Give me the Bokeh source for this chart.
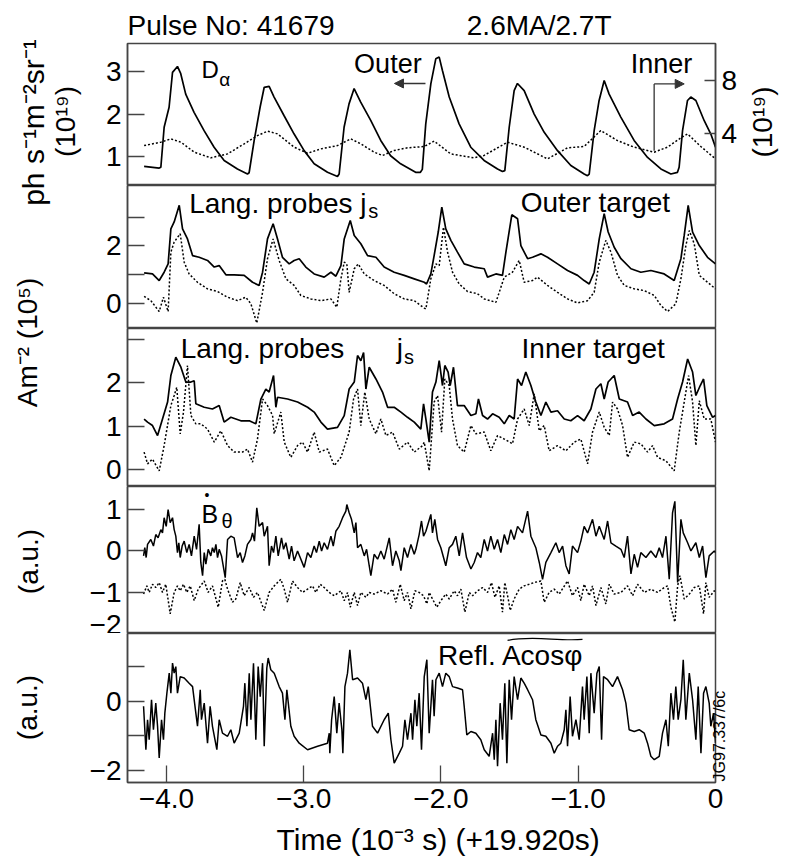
import math
from bokeh.plotting import figure
from bokeh.models import Range1d, LinearAxis, FixedTicker, Label, Arrow, NormalHead, Title
from bokeh.layouts import row, column
from bokeh.embed import file_html
from bokeh.resources import INLINE

FONT = "Liberation Sans"

# ---------------- data (time in 10^-3 s) ----------------
dalpha_outer = [(-4.163,0.77),(-4.053,0.73),(-4.041,0.75),(-4.017,1.69),(-3.981,2.16),(-3.956,2.98),(-3.920,3.12),(-3.896,2.95),(-3.860,2.47),(-3.799,2.04),(-3.726,1.61),(-3.653,1.22),(-3.580,0.91),(-3.483,0.71),(-3.410,0.59),(-3.398,0.62),(-3.361,1.38),(-3.318,2.16),(-3.288,2.63),(-3.252,2.65),(-3.216,2.40),(-3.143,1.96),(-3.070,1.53),(-2.997,1.14),(-2.924,0.83),(-2.827,0.63),(-2.754,0.53),(-2.742,0.59),(-2.706,1.69),(-2.670,2.24),(-2.633,2.60),(-2.585,2.28),(-2.512,1.85),(-2.439,1.38),(-2.367,1.02),(-2.294,0.83),(-2.185,0.63),(-2.150,0.63),(-2.136,0.70),(-2.111,1.77),(-2.074,2.71),(-2.038,3.30),(-2.013,3.34),(-1.989,3.02),(-1.940,2.40),(-1.868,1.77),(-1.783,1.22),(-1.686,0.91),(-1.588,0.71),(-1.552,0.65),(-1.535,0.67),(-1.503,1.69),(-1.467,2.55),(-1.443,2.72),(-1.394,2.55),(-1.321,2.00),(-1.248,1.57),(-1.151,1.14),(-1.054,0.79),(-0.957,0.59),(-0.933,0.55),(-0.920,0.59),(-0.884,1.61),(-0.848,2.32),(-0.811,2.79),(-0.775,2.47),(-0.690,1.93),(-0.593,1.38),(-0.495,0.98),(-0.398,0.71),(-0.325,0.59),(-0.277,0.63),(-0.265,0.75),(-0.240,1.61),(-0.204,2.32),(-0.180,2.40),(-0.143,2.32),(-0.083,1.85),(-0.034,1.53),(0.0,1.22)]

dalpha_inner = [(-4.163,3.06),(-4.041,3.32),(-3.968,3.57),(-3.895,3.32),(-3.798,2.56),(-3.677,2.13),(-3.555,2.43),(-3.434,3.19),(-3.337,3.82),(-3.264,4.15),(-3.191,3.95),(-3.070,2.94),(-2.972,2.48),(-2.875,2.81),(-2.754,3.06),(-2.657,3.57),(-2.584,3.19),(-2.487,2.56),(-2.426,2.31),(-2.341,2.69),(-2.244,2.89),(-2.122,2.99),(-2.050,3.40),(-1.929,2.43),(-1.759,2.13),(-1.686,2.31),(-1.516,3.32),(-1.394,2.94),(-1.224,2.05),(-1.078,2.89),(-0.957,2.99),(-0.836,4.20),(-0.714,3.44),(-0.593,2.94),(-0.447,2.56),(-0.350,2.94),(-0.252,3.65),(-0.204,3.95),(-0.107,2.99),(0.0,2.05)]

js_outer_a = [(-4.163,1.06),(-4.102,1.02),(-4.053,0.79),(-4.017,1.08),(-3.988,1.37),(-3.968,2.59),(-3.944,2.83),(-3.907,3.41),(-3.883,2.59),(-3.847,2.24),(-3.810,1.66),(-3.762,1.60),(-3.701,1.49),(-3.652,1.26),(-3.616,1.31),(-3.567,0.99),(-3.507,0.99),(-3.434,0.97),(-3.373,0.73),(-3.325,0.62),(-3.300,1.08),(-3.264,2.24),(-3.223,2.77),(-3.191,2.24),(-3.155,1.60),(-3.106,1.37),(-3.070,1.49),(-3.033,1.55),(-2.985,1.26),(-2.924,1.02),(-2.851,0.91),(-2.802,1.08),(-2.766,0.94),(-2.729,1.31),(-2.705,2.24),(-2.661,2.88),(-2.632,2.36),(-2.584,2.07),(-2.535,1.66),(-2.474,1.60),(-2.414,1.26),(-2.341,1.08),(-2.268,0.97),(-2.195,0.85),(-2.122,0.73),(-2.105,0.67),(-2.074,1.02),(-2.050,1.66),(-2.020,2.48),(-1.994,3.35),(-1.965,2.59),(-1.928,2.19),(-1.880,1.78),(-1.831,1.37),(-1.758,1.26),(-1.685,1.20),(-1.661,0.91),(-1.600,1.02),(-1.552,0.97),(-1.527,1.78),(-1.484,3.08),(-1.442,2.94),(-1.418,2.01),(-1.369,1.55),(-1.333,1.60),(-1.272,1.72),(-1.224,1.60),(-1.151,1.37),(-1.078,1.14),(-1.005,0.97),(-0.957,0.79),(-0.920,0.67),(-0.884,1.08),(-0.847,2.24),(-0.811,3.12),(-0.782,2.48),(-0.738,1.95),(-0.689,1.55),(-0.616,1.20),(-0.544,1.08),(-0.471,1.14),(-0.374,1.02),(-0.301,0.79),(-0.252,1.55),(-0.228,2.36),(-0.199,3.41),(-0.167,2.48),(-0.118,2.01),(-0.058,1.60),(0.0,1.37)]

js_outer_b = [(-4.163,0.24),(-4.114,0.09),(-4.053,-0.29),(-4.022,0.21),(-3.988,-0.29),(-3.968,1.78),(-3.944,2.13),(-3.900,2.42),(-3.871,1.43),(-3.835,1.02),(-3.774,0.73),(-3.701,0.50),(-3.628,0.41),(-3.555,0.21),(-3.482,0.09),(-3.422,0.21),(-3.385,-0.02),(-3.342,-0.69),(-3.300,0.38),(-3.264,1.55),(-3.223,2.24),(-3.179,1.49),(-3.130,0.85),(-3.070,0.62),(-3.021,0.27),(-2.948,0.15),(-2.875,0.09),(-2.802,0.15),(-2.759,-0.14),(-2.729,0.85),(-2.705,1.43),(-2.686,1.37),(-2.669,0.38),(-2.632,1.20),(-2.603,1.37),(-2.559,1.02),(-2.487,0.79),(-2.414,0.62),(-2.341,0.33),(-2.268,0.15),(-2.195,0.09),(-2.122,-0.17),(-2.110,-0.20),(-2.074,0.85),(-2.037,1.37),(-2.013,1.31),(-1.982,2.65),(-1.952,1.78),(-1.916,1.08),(-1.867,0.67),(-1.807,0.41),(-1.734,0.33),(-1.685,0.15),(-1.600,0.03),(-1.539,0.91),(-1.479,1.08),(-1.430,1.49),(-1.394,0.73),(-1.333,0.79),(-1.297,0.91),(-1.224,0.62),(-1.151,0.38),(-1.078,0.15),(-1.005,0.01),(-0.932,0.09),(-0.884,0.38),(-0.847,1.43),(-0.799,2.19),(-0.762,1.78),(-0.714,0.97),(-0.665,0.62),(-0.592,0.50),(-0.519,0.44),(-0.446,0.27),(-0.398,-0.08),(-0.349,-0.29),(-0.289,-0.02),(-0.252,0.85),(-0.216,2.01),(-0.191,2.53),(-0.155,2.07),(-0.118,0.97),(-0.058,0.73),(0.0,0.50)]

js_inner_a = [(-4.163,1.17),(-4.138,1.10),(-4.102,1.02),(-4.065,0.79),(-4.029,1.17),(-3.992,1.56),(-3.968,2.17),(-3.932,2.59),(-3.895,2.36),(-3.859,2.02),(-3.822,2.02),(-3.798,2.05),(-3.786,1.52),(-3.725,1.44),(-3.665,1.40),(-3.616,1.48),(-3.580,1.10),(-3.531,1.21),(-3.458,1.13),(-3.397,1.13),(-3.349,1.06),(-3.312,1.63),(-3.276,1.86),(-3.252,1.79),(-3.220,2.17),(-3.203,1.44),(-3.191,1.67),(-3.118,1.63),(-3.045,1.56),(-2.972,1.44),(-2.924,1.33),(-2.875,1.10),(-2.827,0.94),(-2.754,0.98),(-2.705,1.25),(-2.669,1.86),(-2.632,2.02),(-2.608,2.63),(-2.584,2.51),(-2.564,2.70),(-2.547,1.86),(-2.523,2.36),(-2.474,2.09),(-2.426,1.79),(-2.389,1.44),(-2.341,1.44),(-2.292,1.33),(-2.244,1.21),(-2.195,1.10),(-2.147,0.94),(-2.127,1.52),(-2.110,1.17),(-2.086,0.64),(-2.062,1.79),(-2.037,2.02),(-2.013,2.51),(-1.989,1.94),(-1.972,2.40),(-1.948,2.25),(-1.933,1.94),(-1.909,2.36),(-1.880,1.48),(-1.831,1.48),(-1.782,1.25),(-1.746,1.29),(-1.727,1.63),(-1.697,1.25),(-1.661,1.17),(-1.624,1.29),(-1.576,1.21),(-1.539,1.06),(-1.503,1.25),(-1.467,1.17),(-1.442,2.09),(-1.413,1.94),(-1.382,2.25),(-1.345,1.94),(-1.309,1.56),(-1.272,1.25),(-1.236,1.56),(-1.199,1.33),(-1.151,1.36),(-1.102,1.17),(-1.054,1.13),(-1.005,1.25),(-0.957,1.13),(-0.908,1.40),(-0.871,1.86),(-0.835,1.98),(-0.811,1.63),(-0.782,2.02),(-0.738,2.17),(-0.701,1.63),(-0.641,1.56),(-0.604,1.25),(-0.556,1.33),(-0.507,1.17),(-0.446,1.02),(-0.374,1.06),(-0.313,1.17),(-0.276,1.63),(-0.240,2.02),(-0.203,2.55),(-0.167,2.25),(-0.143,1.71),(-0.111,1.94),(-0.087,2.09),(-0.063,1.48),(-0.021,1.21),(0.0,1.25)]

js_inner_b = [(-4.163,0.41),(-4.138,0.14),(-4.102,0.25),(-4.053,-0.02),(-4.017,0.56),(-3.968,1.48),(-3.944,1.71),(-3.925,1.90),(-3.900,0.83),(-3.876,1.33),(-3.847,2.40),(-3.822,1.25),(-3.786,1.06),(-3.750,1.06),(-3.701,0.94),(-3.652,0.64),(-3.604,0.90),(-3.555,0.56),(-3.507,0.41),(-3.446,0.41),(-3.410,0.48),(-3.373,0.18),(-3.337,0.71),(-3.300,1.63),(-3.264,1.48),(-3.227,1.25),(-3.215,0.83),(-3.167,1.33),(-3.142,0.64),(-3.094,0.29),(-3.045,0.56),(-3.009,0.64),(-2.972,0.41),(-2.924,0.87),(-2.887,0.41),(-2.827,0.48),(-2.778,0.10),(-2.729,0.29),(-2.669,0.87),(-2.637,1.63),(-2.608,1.86),(-2.584,1.02),(-2.555,1.79),(-2.523,1.17),(-2.474,0.83),(-2.438,1.17),(-2.401,0.79),(-2.353,0.87),(-2.304,0.48),(-2.244,0.64),(-2.195,0.41),(-2.134,0.56),(-2.122,0.64),(-2.086,-0.02),(-2.050,1.56),(-2.025,1.71),(-1.996,0.87),(-1.972,2.09),(-1.940,1.94),(-1.916,1.17),(-1.880,0.56),(-1.831,0.41),(-1.782,1.02),(-1.746,0.83),(-1.685,0.87),(-1.637,0.44),(-1.588,0.79),(-1.539,0.71),(-1.479,0.60),(-1.442,1.17),(-1.394,1.40),(-1.357,1.02),(-1.321,1.75),(-1.284,0.90),(-1.248,1.02),(-1.212,0.44),(-1.151,0.56),(-1.090,0.44),(-1.029,0.64),(-0.981,0.71),(-0.932,0.14),(-0.896,0.87),(-0.847,1.33),(-0.811,0.98),(-0.774,0.79),(-0.750,1.56),(-0.714,1.40),(-0.677,1.02),(-0.641,0.29),(-0.592,0.64),(-0.544,0.60),(-0.495,0.41),(-0.459,0.56),(-0.422,0.29),(-0.361,0.21),(-0.301,-0.02),(-0.264,0.87),(-0.228,1.56),(-0.196,2.17),(-0.167,1.56),(-0.143,0.56),(-0.118,1.59),(-0.082,1.17),(-0.034,1.17),(0.0,0.64)]

bdot_a = [(-4.167,-0.12),(-4.158,0.08),(-4.148,-0.16),(-4.138,0.16),(-4.114,0.28),(-4.095,0.12),(-4.078,0.40),(-4.061,0.32),(-4.041,0.52),(-4.029,0.44),(-4.017,0.81),(-4.002,0.60),(-3.988,1.01),(-3.973,0.69),(-3.956,0.81),(-3.944,0.52),(-3.932,0.36),(-3.920,-0.04),(-3.910,0.20),(-3.900,-0.16),(-3.886,0.12),(-3.871,0.24),(-3.852,-0.04),(-3.835,0.16),(-3.818,-0.12),(-3.798,0.36),(-3.781,0.04),(-3.762,0.65),(-3.750,-0.28),(-3.737,-0.60),(-3.725,-0.04),(-3.713,-0.32),(-3.696,0.04),(-3.677,-0.12),(-3.665,0.08),(-3.652,-0.04),(-3.640,0.16),(-3.628,-0.16),(-3.616,0.04),(-3.599,-0.12),(-3.572,-0.65),(-3.555,0.28),(-3.531,0.36),(-3.507,0.32),(-3.482,-0.16),(-3.463,-0.04),(-3.446,-0.28),(-3.429,-0.12),(-3.410,0.16),(-3.385,0.28),(-3.373,0.44),(-3.359,0.24),(-3.342,1.05),(-3.325,0.60),(-3.300,0.69),(-3.288,0.36),(-3.264,0.60),(-3.252,-0.36),(-3.235,0.12),(-3.220,-0.04),(-3.203,0.36),(-3.186,-0.12),(-3.162,0.32),(-3.147,0.04),(-3.130,0.20),(-3.106,-0.20),(-3.089,0.12),(-3.070,-0.24),(-3.045,0.00),(-2.997,-0.40),(-2.972,-0.04),(-2.948,-0.16),(-2.924,0.12),(-2.907,-0.04),(-2.887,0.24),(-2.870,0.00),(-2.851,0.20),(-2.827,0.04),(-2.802,0.36),(-2.785,0.12),(-2.766,0.48),(-2.742,0.60),(-2.717,0.81),(-2.693,0.97),(-2.686,1.13),(-2.669,0.93),(-2.652,0.77),(-2.632,0.44),(-2.620,0.69),(-2.608,0.08),(-2.584,0.16),(-2.559,-0.12),(-2.542,0.04),(-2.523,-0.36),(-2.511,-0.60),(-2.487,-0.08),(-2.462,-0.20),(-2.438,0.00),(-2.414,-0.20),(-2.377,0.32),(-2.353,-0.36),(-2.329,0.00),(-2.304,-0.24),(-2.292,-0.48),(-2.268,0.08),(-2.244,-0.16),(-2.219,0.16),(-2.195,-0.08),(-2.183,0.04),(-2.159,0.40),(-2.142,0.73),(-2.127,0.36),(-2.110,0.48),(-2.074,0.89),(-2.062,0.44),(-2.045,0.77),(-2.025,0.28),(-2.001,0.08),(-1.965,-0.36),(-1.940,0.08),(-1.916,0.16),(-1.892,0.36),(-1.867,-0.12),(-1.843,0.44),(-1.814,-0.16),(-1.782,-0.44),(-1.758,-0.28),(-1.734,-0.04),(-1.710,-0.16),(-1.685,0.28),(-1.661,0.00),(-1.637,0.36),(-1.612,0.04),(-1.588,0.28),(-1.564,-0.04),(-1.539,0.40),(-1.515,0.16),(-1.491,0.52),(-1.467,0.28),(-1.442,0.60),(-1.406,0.44),(-1.369,0.97),(-1.345,0.36),(-1.309,0.08),(-1.284,-0.28),(-1.260,-0.69),(-1.236,-0.28),(-1.199,-0.04),(-1.163,0.20),(-1.139,-0.04),(-1.114,0.12),(-1.090,-0.36),(-1.066,-0.56),(-1.042,0.12),(-1.005,-0.04),(-0.981,0.24),(-0.957,0.60),(-0.932,0.44),(-0.896,0.77),(-0.871,0.36),(-0.847,0.60),(-0.811,0.28),(-0.786,0.73),(-0.762,0.20),(-0.726,0.12),(-0.689,0.04),(-0.665,-0.16),(-0.641,0.36),(-0.616,-0.56),(-0.592,-0.08),(-0.568,-0.40),(-0.544,-0.04),(-0.507,-0.16),(-0.471,0.00),(-0.434,-0.16),(-0.410,0.08),(-0.386,-0.16),(-0.361,0.36),(-0.337,-0.69),(-0.313,0.93),(-0.296,1.21),(-0.276,-0.77),(-0.252,0.77),(-0.235,0.44),(-0.203,0.20),(-0.179,0.00),(-0.143,0.20),(-0.118,-0.16),(-0.094,0.12),(-0.070,-0.65),(-0.046,-0.12),(-0.009,0.00),(0.0,-0.04)]

bdot_b = [(-4.167,-1.05),(-4.143,-0.85),(-4.126,-1.01),(-4.102,-0.81),(-4.078,-0.89),(-4.053,-0.77),(-4.029,-1.01),(-4.005,-0.81),(-3.973,-1.53),(-3.944,-1.01),(-3.920,-0.85),(-3.900,-0.97),(-3.876,-0.81),(-3.852,-1.01),(-3.827,-0.85),(-3.798,-1.21),(-3.769,-0.93),(-3.725,-0.73),(-3.696,-1.01),(-3.665,-0.85),(-3.623,-1.37),(-3.592,-0.73),(-3.575,-0.69),(-3.555,-0.93),(-3.519,-1.25),(-3.495,-1.17),(-3.463,-0.77),(-3.434,-1.09),(-3.397,-0.89),(-3.366,-1.13),(-3.337,-1.01),(-3.288,-1.45),(-3.252,-1.01),(-3.215,-0.85),(-3.167,-0.69),(-3.142,-0.93),(-3.118,-1.25),(-3.082,-0.73),(-3.045,-0.89),(-3.009,-1.01),(-2.972,-0.93),(-2.936,-0.85),(-2.912,-1.01),(-2.880,-0.81),(-2.851,-0.89),(-2.814,-1.01),(-2.778,-1.09),(-2.729,-0.97),(-2.705,-1.21),(-2.681,-1.01),(-2.661,-1.37),(-2.632,-1.01),(-2.608,-1.33),(-2.584,-1.01),(-2.547,-1.13),(-2.523,-1.01),(-2.487,-1.05),(-2.438,-0.97),(-2.389,-1.05),(-2.353,-0.93),(-2.329,-1.25),(-2.297,-0.81),(-2.268,-1.21),(-2.244,-1.01),(-2.219,-1.41),(-2.190,-0.97),(-2.159,-1.01),(-2.127,-1.09),(-2.103,-1.29),(-2.086,-1.01),(-2.062,-1.17),(-2.030,-1.37),(-2.001,-1.21),(-1.965,-1.05),(-1.940,-1.17),(-1.904,-0.97),(-1.880,-1.09),(-1.855,-0.93),(-1.826,-1.49),(-1.794,-1.01),(-1.770,-1.09),(-1.734,-0.97),(-1.697,-0.89),(-1.661,-1.01),(-1.632,-0.77),(-1.607,-1.13),(-1.576,-0.85),(-1.552,-1.49),(-1.535,-0.77),(-1.510,-1.17),(-1.496,-1.45),(-1.467,-1.17),(-1.430,-0.93),(-1.394,-0.85),(-1.357,-0.81),(-1.321,-0.77),(-1.272,-0.73),(-1.248,-1.25),(-1.212,-1.01),(-1.175,-0.93),(-1.139,-1.05),(-1.078,-0.73),(-1.042,-1.09),(-1.005,-0.89),(-0.981,-1.21),(-0.957,-0.81),(-0.920,-1.09),(-0.896,-0.85),(-0.871,-1.33),(-0.835,-0.89),(-0.799,-1.29),(-0.774,-0.81),(-0.738,-1.05),(-0.689,-1.01),(-0.641,-0.85),(-0.604,-1.09),(-0.568,-0.81),(-0.519,-1.01),(-0.471,-0.93),(-0.422,-1.01),(-0.374,-0.89),(-0.349,-0.85),(-0.325,-1.37),(-0.296,-1.73),(-0.276,-0.85),(-0.259,-0.60),(-0.228,-1.17),(-0.191,-1.05),(-0.155,-0.89),(-0.118,-0.85),(-0.087,-1.53),(-0.070,-0.77),(-0.046,-1.13),(-0.009,-0.97),(0.0,-1.01)]

refl_acos = [(-4.167,-0.14),(-4.150,-1.40),(-4.138,-0.53),(-4.126,-1.11),(-4.109,0.05),(-4.095,-0.82),(-4.078,-0.05),(-4.065,-0.72),(-4.053,-1.64),(-4.036,-0.53),(-4.022,-1.11),(-4.012,-0.34),(-3.997,0.24),(-3.980,0.82),(-3.968,0.24),(-3.956,1.11),(-3.944,0.82),(-3.932,1.01),(-3.920,0.24),(-3.900,0.72),(-3.871,0.68),(-3.835,0.53),(-3.810,0.43),(-3.786,-0.34),(-3.774,-0.72),(-3.754,0.34),(-3.745,-0.53),(-3.725,-0.05),(-3.701,-1.21),(-3.682,-0.14),(-3.665,-0.72),(-3.633,-1.40),(-3.616,-0.53),(-3.592,-0.92),(-3.555,-1.01),(-3.531,-0.82),(-3.507,-1.21),(-3.470,-0.92),(-3.439,-0.14),(-3.429,0.53),(-3.414,-0.72),(-3.397,0.82),(-3.385,-0.53),(-3.366,1.11),(-3.349,-1.11),(-3.332,1.01),(-3.317,0.14),(-3.300,1.11),(-3.288,-1.30),(-3.269,0.97),(-3.259,1.26),(-3.240,0.92),(-3.215,0.82),(-3.179,0.43),(-3.155,0.24),(-3.137,-0.53),(-3.123,0.34),(-3.094,-0.72),(-3.070,-1.01),(-3.033,-1.21),(-2.972,-1.40),(-2.899,-1.30),(-2.827,-1.21),(-2.814,-0.92),(-2.810,-1.50),(-2.797,-0.53),(-2.778,0.14),(-2.759,-0.92),(-2.742,-0.05),(-2.722,-0.82),(-2.715,-1.50),(-2.700,0.43),(-2.681,0.82),(-2.664,1.50),(-2.644,0.63),(-2.608,0.68),(-2.572,0.53),(-2.547,0.05),(-2.530,0.43),(-2.499,-0.72),(-2.462,-0.92),(-2.414,-0.53),(-2.384,-0.34),(-2.365,-1.11),(-2.341,-1.79),(-2.304,-1.50),(-2.280,-1.30),(-2.263,-0.53),(-2.244,-1.11),(-2.219,-0.34),(-2.207,-1.11),(-2.190,0.05),(-2.176,-0.72),(-2.159,0.24),(-2.142,-1.40),(-2.122,0.72),(-2.103,1.21),(-2.086,-0.92),(-2.062,0.63),(-2.050,-0.43),(-2.037,0.63),(-2.013,0.82),(-1.989,0.43),(-1.965,0.82),(-1.940,0.72),(-1.916,0.43),(-1.880,0.39),(-1.843,0.34),(-1.831,-0.14),(-1.812,-0.97),(-1.782,-0.87),(-1.746,-0.92),(-1.710,-1.11),(-1.685,-1.40),(-1.649,-1.59),(-1.624,-0.92),(-1.612,-1.69),(-1.600,-0.53),(-1.588,-1.88),(-1.569,-0.05),(-1.552,-1.11),(-1.535,0.53),(-1.520,-1.79),(-1.503,0.63),(-1.486,-0.53),(-1.467,0.72),(-1.442,0.05),(-1.418,0.68),(-1.394,0.53),(-1.369,0.34),(-1.333,0.05),(-1.309,-0.53),(-1.272,-0.97),(-1.236,-1.01),(-1.199,-1.21),(-1.175,-1.50),(-1.151,-1.30),(-1.127,-1.21),(-1.102,-0.82),(-1.090,-0.24),(-1.078,-1.30),(-1.059,0.14),(-1.042,-1.01),(-1.017,-0.53),(-0.993,-1.11),(-0.969,0.43),(-0.957,-0.53),(-0.937,0.72),(-0.920,-0.92),(-0.908,0.82),(-0.884,-0.34),(-0.864,0.82),(-0.847,1.01),(-0.830,-1.11),(-0.816,0.72),(-0.786,0.63),(-0.750,0.43),(-0.714,0.72),(-0.677,0.34),(-0.653,-0.05),(-0.629,-0.82),(-0.592,-0.87),(-0.556,-0.82),(-0.519,-0.92),(-0.495,-1.21),(-0.471,-1.59),(-0.446,-1.69),(-0.410,-1.59),(-0.386,-0.92),(-0.361,-0.53),(-0.344,-1.30),(-0.325,0.24),(-0.306,-0.53),(-0.289,0.43),(-0.272,-0.53),(-0.252,0.05),(-0.235,1.21),(-0.216,-0.53),(-0.191,0.82),(-0.167,0.05),(-0.143,-1.11),(-0.126,0.43),(-0.106,-1.50),(-0.087,0.24),(-0.070,0.43),(-0.046,-0.05),(-0.034,-0.72),(-0.014,-0.34),(0.0,-1.20)]

x_ticks = [-4, -3, -2, -1, 0]
x_tick_labels = ["\u22124.0", "\u22123.0", "\u22122.0", "\u22121.0", "0"]

# ---------------- layout helpers ----------------
X0, X1 = -4.284, 0.0
FW = 588
LBW = 84          # width of the left strip holding the rotated y titles
BL, BR = 43, 66
FRAME = "#444444"
NB = "\u00a0"


def unzip(pairs):
    return [a for a, _ in pairs], [b for _, b in pairs]


def make_panel(fh, y0, y1, top=0, bottom=0, xaxis=False):
    p = figure(frame_width=FW, frame_height=fh, title=None,
               x_range=Range1d(X0, X1), y_range=Range1d(y0, y1),
               x_axis_location="below" if xaxis else None, y_axis_location="left",
               toolbar_location=None, output_backend="svg",
               min_border_left=BL, min_border_right=BR,
               min_border_top=top, min_border_bottom=bottom,
               outline_line_color=FRAME, outline_line_width=1.5,
               background_fill_color="white", border_fill_color="white")
    p.grid.visible = False
    return p


def style_axis(ax, ticks, labels, tick_in=17):
    ax.ticker = FixedTicker(ticks=ticks)
    ax.major_label_overrides = {t: l for t, l in zip(ticks, labels)}
    ax.major_tick_in = tick_in
    ax.major_tick_out = 0
    ax.minor_tick_line_color = None
    ax.axis_line_color = FRAME
    ax.axis_line_width = 1.5
    ax.major_tick_line_color = FRAME
    ax.major_tick_line_width = 1.3
    ax.major_label_text_font = FONT
    ax.major_label_text_font_size = "28px"
    ax.major_label_text_color = "black"
    ax.major_label_standoff = 6


def text_axis(ax, tick, text, size, standoff):
    """An axis with no line and no tick mark, used only to write a rotated side text."""
    ax.ticker = FixedTicker(ticks=[tick])
    ax.major_label_overrides = {tick: text}
    ax.major_label_orientation = math.pi / 2
    ax.major_tick_in = 0
    ax.major_tick_out = 0
    ax.minor_tick_line_color = None
    ax.major_tick_line_color = None
    ax.axis_line_color = None
    ax.major_label_text_font = FONT
    ax.major_label_text_font_size = f"{size}px"
    ax.major_label_text_color = "black"
    ax.major_label_standoff = standoff


def lab(p, x, y, text, size=28, align="left", baseline="alphabetic", angle=0.0):
    p.add_layout(Label(x=x, y=y, text=text, text_font=FONT, text_font_size=f"{size}px",
                       text_align=align, text_baseline=baseline, angle=angle,
                       text_color="black"))


def solid(p, pairs, **kw):
    t, v = unzip(pairs)
    p.line(t, v, line_color="black", line_width=kw.pop("w", 1.7), **kw)


def dotted(p, pairs, **kw):
    t, v = unzip(pairs)
    p.line(t, v, line_color="black", line_width=kw.pop("w", 1.5), line_dash="2 2", **kw)


# ---------------- panel 1 : D alpha ----------------
p1 = make_panel(142, 0.32, 3.66, top=43)
p1.add_layout(Title(text="Pulse No: 41679" + NB * 17 + "2.6MA/2.7T", align="left",
                    text_font=FONT, text_font_size="28px", text_font_style="normal",
                    standoff=6, text_color="black"), "above")
style_axis(p1.yaxis[0], [1, 2, 3], ["1", "2", "3"])
p1.extra_y_ranges = {"right": Range1d(0.03, 10.81)}
rax = LinearAxis(y_range_name="right")
p1.add_layout(rax, "right")
style_axis(rax, [4, 8], ["4", "8"], tick_in=11)
rtitle = LinearAxis(y_range_name="right")
p1.add_layout(rtitle, "right")
text_axis(rtitle, 2.15, "(10\u00b9\u2079)", 28, 22)
solid(p1, dalpha_outer)
dotted(p1, dalpha_inner, y_range_name="right")
lab(p1, -3.745, 3.05, "D", size=24)
lab(p1, -3.616, 2.81, "\u03b1", size=19)
lab(p1, -2.633, 3.18, "Outer", size=27)
p1.add_layout(Arrow(end=NormalHead(size=9, fill_color="#333333", line_color="#333333"),
                    x_start=-2.113, y_start=2.72, x_end=-2.339, y_end=2.72,
                    line_color="#333333", line_width=1.6))
lab(p1, -0.617, 3.18, "Inner", size=27)
p1.add_layout(Arrow(end=None, x_start=-0.447, y_start=1.14, x_end=-0.447, y_end=2.71,
                    line_color="#333333", line_width=1.3))
p1.add_layout(Arrow(end=NormalHead(size=9, fill_color="#333333", line_color="#333333"),
                    x_start=-0.447, y_start=2.71, x_end=-0.228, y_end=2.71,
                    line_color="#333333", line_width=1.3))

# ---------------- panel 2 : outer target ----------------
p2 = make_panel(143, -0.88, 4.10)
style_axis(p2.yaxis[0], [0, 1, 2, 3], ["0", "", "2", ""])
solid(p2, js_outer_a)
dotted(p2, js_outer_b)
lab(p2, -3.835, 3.48, "Lang. probes j")
lab(p2, -2.53, 3.20, "s", size=20)
lab(p2, -1.419, 3.50, "Outer target")

# ---------------- panel 3 : inner target ----------------
p3 = make_panel(158, -0.38, 3.25)
style_axis(p3.yaxis[0], [0, 1, 2, 3], ["0", "1", "2", ""])
solid(p3, js_inner_a)
dotted(p3, js_inner_b)
lab(p3, -3.896, 2.78, "Lang. probes")
lab(p3, -2.322, 2.78, "j")
lab(p3, -2.270, 2.59, "s", size=20)
lab(p3, -1.413, 2.78, "Inner target")

# ---------------- panel 4 : B-dot ----------------
p4 = make_panel(147, -2.01, 1.57)
style_axis(p4.yaxis[0], [-2, -1, 0, 1], ["\u22122", "\u22121", "0", "1"])
solid(p4, bdot_a, w=1.5)
dotted(p4, bdot_b, w=1.5)
lab(p4, -3.745, 0.89, "B", size=25)
lab(p4, -3.706, 1.36, "\u2022", size=14, align="center", baseline="middle")
lab(p4, -3.599, 0.72, "\u03b8", size=20)

# ---------------- panel 5 : reflectometry ----------------
p5 = make_panel(149, -2.35, 1.97, bottom=0, xaxis=True)
style_axis(p5.yaxis[0], [-2, -1, 0, 1], ["\u22122", "", "0", ""])
style_axis(p5.xaxis[0], x_ticks, x_tick_labels)
xa = p5.xaxis[0]
xa.axis_label = NB * 4 + "Time (10\u207b\u00b3 s) (+19.920s)"
xa.axis_label_text_font = FONT
xa.axis_label_text_font_size = "30px"
xa.axis_label_text_font_style = "normal"
xa.axis_label_text_color = "black"
xa.axis_label_standoff = 12
jax = LinearAxis()
p5.add_layout(jax, "right")
text_axis(jax, -2.32, "JG97.337/6c", 16, 4)
solid(p5, refl_acos, w=1.5)
lab(p5, -2.021, 1.32, "Refl. Acos\u03c6")
p5.bezier(x0=-1.515, y0=1.77, x1=-0.969, y1=1.80, cx0=-1.33, cy0=1.92,
          cx1=-1.15, cy1=1.74, line_color="black", line_width=1.2)

# ---------------- left strip with rotated y titles ----------------
TOTAL_H = 43 + 142 + 143 + 158 + 147 + 149 + 80
pl = figure(frame_width=LBW, frame_height=TOTAL_H, title=None,
            x_range=Range1d(0, LBW), y_range=Range1d(TOTAL_H, 0),
            x_axis_location=None, y_axis_location=None, toolbar_location=None,
            output_backend="svg", min_border=0, outline_line_color=None,
            background_fill_color="white", border_fill_color="white")
pl.grid.visible = False
lab(pl, 33, 122, "ph s\u207b\u00b9m\u207b\u00b2sr\u207b\u00b9", size=30, align="center", baseline="middle", angle=math.pi / 2)
lab(pl, 65, 121, "(10\u00b9\u2079)", align="center", baseline="middle", angle=math.pi / 2)
lab(pl, 27, 342, "Am\u207b\u00b2 (10\u2075)", align="center", baseline="middle", angle=math.pi / 2)
lab(pl, 28, 561, "(a.u.)", align="center", baseline="middle", angle=math.pi / 2)
lab(pl, 27, 707, "(a.u.)", align="center", baseline="middle", angle=math.pi / 2)

layout = row(pl, column(p1, p2, p3, p4, p5))
open("out.html", "w").write(file_html(layout, INLINE))
